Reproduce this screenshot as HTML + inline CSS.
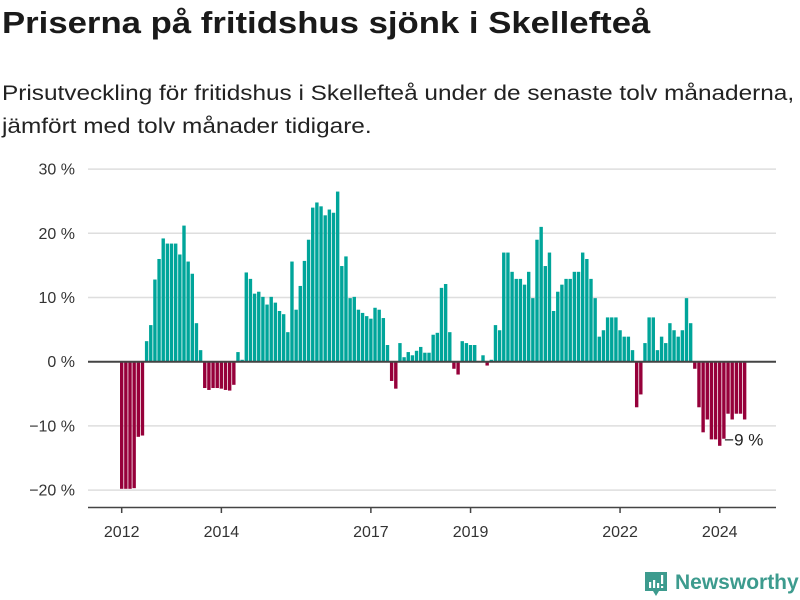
<!DOCTYPE html>
<html><head><meta charset="utf-8">
<style>
body{margin:0;background:#fff;width:800px;height:600px;overflow:hidden;font-family:"Liberation Sans",sans-serif;color:#222}
h1{position:absolute;left:2px;top:5px;margin:0;font-size:31px;font-weight:bold;color:#1a1a1a;transform-origin:0 0;transform:scaleX(1.12);white-space:nowrap}
.sub{position:absolute;left:2px;top:77px;margin:0;font-size:21px;line-height:33px;color:#222;transform-origin:0 0;transform:scaleX(1.16);white-space:nowrap}
svg{position:absolute;left:0;top:0}
</style></head>
<body>
<h1>Priserna på fritidshus sjönk i Skellefteå</h1>
<p class="sub">Prisutveckling för fritidshus i Skellefteå under de senaste tolv månaderna,<br>jämfört med tolv månader tidigare.</p>
<svg id="chart" width="800" height="600"></svg>
<script>
const values = [-19.8,-19.8,-19.8,-19.7,-11.7,-11.5,3.2,5.7,12.8,16.0,19.2,18.4,18.4,18.4,16.7,21.2,15.6,13.7,6.0,1.8,
-4.1,-4.4,-4.1,-4.1,-4.2,-4.4,-4.5,-3.6,1.5,0.3,13.9,12.9,10.6,10.9,10.1,8.9,10.1,9.2,7.9,7.4,
4.6,15.6,8.1,11.8,15.7,19.0,24.0,24.8,24.2,22.8,23.7,23.2,26.5,14.9,16.4,9.9,10.1,8.1,7.6,7.1,
6.7,8.4,8.1,6.8,2.6,-3.0,-4.2,2.9,0.7,1.5,1.0,1.7,2.3,1.4,1.4,4.2,4.5,11.5,12.1,4.6,
-1.1,-2.0,3.2,2.9,2.6,2.6,0,1.0,-0.6,0.3,5.7,4.9,17.0,17.0,14.0,12.9,12.9,12.0,14.0,9.9,
19.0,21.0,14.9,17.0,7.9,10.9,12.0,12.9,12.9,14.0,14.0,17.0,16.0,12.9,9.9,3.9,4.9,6.9,6.9,6.9,
4.9,3.9,3.9,1.8,-7.1,-5.1,2.9,6.9,6.9,1.8,3.9,2.9,6.0,4.9,3.9,4.9,9.9,6.0,-1.1,-7.1,
-11.0,-9.0,-12.1,-12.1,-13.1,-12.0,-8.1,-9.0,-8.1,-8.1,-9.0];
const yTicks = [30,20,10,0,-10,-20];
const yTickLabels = ["30 %","20 %","10 %","0 %","\u221210 %","\u221220 %"];
const xTickIndex = [0,24,60,84,120,144];
const xTickLabels = ["2012","2014","2017","2019","2022","2024"];
const lastLabel = "\u22129 %";

const NS="http://www.w3.org/2000/svg";
const svg=document.getElementById('chart');
const y0=361.7, pxPer=6.42, x0=120, pitch=4.153, bw=3.4;
const yS=v=>y0-v*pxPer;
const xS=i=>x0+i*pitch;
function mk(t,a){const e=document.createElementNS(NS,t);for(const k in a)e.setAttribute(k,a[k]);svg.appendChild(e);return e;}
yTicks.forEach((t,i)=>{
  if(t!==0){const g=mk('line',{x1:88,x2:776,y1:yS(t),y2:yS(t),stroke:'#dedede','stroke-width':1.5});
  
  }
  const l=mk('text',{x:75,y:yS(t)+5.5,'text-anchor':'end','font-size':16,fill:'#333','font-family':'Liberation Sans, sans-serif'});
  l.textContent=yTickLabels[i];
  
  
});
values.forEach((v,i)=>{
  const r=mk('rect',{x:xS(i),width:bw,y:v>=0?yS(v):y0,height:Math.abs(v)*pxPer,fill:v>=0?'#00a59a':'#96003a'});
  
  
});
const z=mk('line',{x1:88,x2:776,y1:y0,y2:y0,stroke:'#444','stroke-width':2});


const ax=mk('line',{x1:88,x2:776,y1:507.5,y2:507.5,stroke:'#444','stroke-width':1.5});


xTickIndex.forEach((k,i)=>{
  const cx=xS(k)+bw/2;
  const t=mk('line',{x1:cx,x2:cx,y1:507.5,y2:513,stroke:'#444','stroke-width':1.5});
  
  
  const l=mk('text',{x:cx,y:537,'text-anchor':'middle','font-size':16,fill:'#333','font-family':'Liberation Sans, sans-serif'});
  l.textContent=xTickLabels[i];
  
  
});
const li=values.length-1;
const ll=mk('text',{x:xS(li-5)+2,y:yS(values[li])+26,'font-size':17,fill:'#222','font-family':'Liberation Sans, sans-serif'});
ll.textContent=lastLabel;


</script>
<svg width="800" height="600" style="pointer-events:none">
<g>
<path d="M645 572 h22 v19 h-8 l-3 5 l-3 -5 h-8 z" fill="#3d9b8e"/>
<rect x="649" y="582" width="2.2" height="6" fill="#fff"/>
<rect x="653" y="580" width="2.2" height="8" fill="#fff"/>
<rect x="657" y="583" width="2.2" height="5" fill="#fff"/>
<rect x="661" y="575" width="2.2" height="9" fill="#fff"/>
<rect x="661" y="586" width="2.2" height="2" fill="#fff"/>
<text x="675" y="589" font-size="21" font-family="Liberation Sans, sans-serif" fill="#3d9b8e" font-weight="bold">Newsworthy</text>
</g>
</svg>
</body></html>
